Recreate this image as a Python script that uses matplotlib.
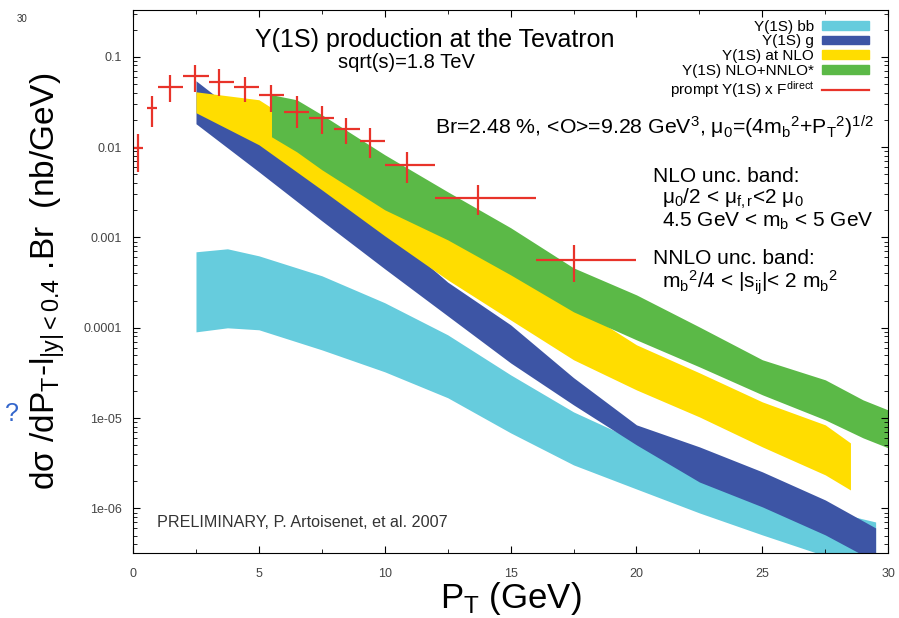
import matplotlib
matplotlib.use("Agg")
import matplotlib.pyplot as plt
from matplotlib.patches import Patch
from matplotlib.lines import Line2D
from matplotlib.ticker import FixedLocator, FixedFormatter, LogLocator, MultipleLocator
import numpy as np

plt.rcParams["font.family"] = ["Liberation Sans", "DejaVu Sans"]
plt.rcParams["mathtext.fontset"] = "custom"
plt.rcParams["mathtext.rm"] = "Liberation Sans"
plt.rcParams["mathtext.it"] = "Liberation Sans:italic"
plt.rcParams["mathtext.bf"] = "Liberation Sans:bold"

# --- theory bands (pT in GeV, dsigma in nb/GeV) ---
bb_x = [2.5, 3.75, 5, 7.5, 10, 12.5, 15, 17.5, 20, 22.5, 25, 27.5, 29.5]
bb_hi = [6.93e-4, 7.48e-4, 6.25e-4, 3.76e-4, 1.89e-4, 8.35e-5, 3.01e-5, 1.17e-5,
         5.60e-6, 2.67e-6, 1.52e-6, 9.62e-7, 7.08e-7]
bb_lo = [9.0e-5, 9.98e-5, 9.49e-5, 5.69e-5, 3.25e-5, 1.68e-5, 6.86e-6, 3.03e-6,
         1.64e-6, 8.91e-7, 5.09e-7, 2.98e-7, 2.09e-7]

g_x = [2.5, 5, 7.5, 10, 12.5, 15, 17.5, 20, 22.5, 25, 27.5, 29.5]
g_hi = [0.0542, 0.01556, 0.00446, 0.001277, 3.2e-4, 1.077e-4, 2.8e-5, 8.41e-6,
        4.80e-6, 2.54e-6, 1.24e-6, 6.08e-7]
g_lo = [0.01812, 0.00532, 0.001527, 4.49e-4, 1.354e-4, 4.08e-5, 1.40e-5, 5.05e-6,
        1.96e-6, 1.04e-6, 5.09e-7, 2.56e-7]

nlo_x = [2.5, 5, 7.5, 10, 12.5, 15, 17.5, 20, 22.5, 25, 27.5, 28.5]
nlo_hi = [0.0409, 0.0334, 0.01205, 0.00296, 1.15e-3, 4.6e-4, 1.79e-4, 6.47e-5,
          3.17e-5, 1.51e-5, 8.41e-6, 5.31e-6]
nlo_lo = [0.0240, 0.0106, 0.00336, 0.00104, 3.39e-4, 1.22e-4, 4.42e-5, 2.05e-5,
          1.03e-5, 4.80e-6, 2.35e-6, 1.60e-6]

nnlo_x = [5.5, 6.5, 7.5, 10, 12.5, 15, 17.5, 20, 22.5, 25, 27.5, 29, 30]
nnlo_hi = [0.0380, 0.0334, 0.0228, 0.00822, 0.00320, 0.00128, 4.60e-4, 2.31e-4,
           1.02e-4, 4.42e-5, 2.65e-5, 1.59e-5, 1.23e-5]
nnlo_lo = [0.0130, 0.00887, 0.00561, 0.00202, 9.40e-4, 3.85e-4, 1.50e-4, 7.34e-5,
           3.69e-5, 1.81e-5, 9.55e-6, 6.04e-6, 4.68e-6]

# --- CDF data points ---
pt_x = [0.2, 0.75, 1.47, 2.46, 3.4, 4.45, 5.5, 6.5, 7.5, 8.45, 9.4, 10.9, 13.7, 17.5]
pt_xlo = [0.0, 0.55, 1.0, 2.0, 3.0, 4.0, 5.0, 6.0, 7.0, 8.0, 9.0, 10.0, 12.0, 16.0]
pt_xhi = [0.4, 0.95, 2.0, 3.0, 4.0, 5.0, 6.0, 7.0, 8.0, 9.0, 10.0, 12.0, 16.0, 20.0]
pt_y = [0.0098, 0.0272, 0.0468, 0.0617, 0.0528, 0.0468, 0.0380, 0.0245, 0.0211,
        0.0158, 0.0117, 0.00637, 0.00275, 0.000562]
pt_yhi = [0.0138, 0.0363, 0.0631, 0.0813, 0.0724, 0.0603, 0.0490, 0.0363, 0.0282,
          0.0211, 0.0162, 0.00871, 0.00380, 0.000832]
pt_ylo = [0.00525, 0.0168, 0.0316, 0.0407, 0.0363, 0.0316, 0.0245, 0.0162, 0.0138,
          0.0107, 0.00759, 0.00398, 0.00178, 0.000324]

ytick_vals = [1e-6, 1e-5, 1e-4, 1e-3, 1e-2, 1e-1]
ytick_labels = ["1e-06", "1e-05", "0.0001", "0.001", "0.01", "0.1"]

c_bb = "#66CCDD"
c_g = "#3D55A5"
c_nlo = "#FFDD00"
c_nnlo = "#5BB947"
c_red = "#E8332A"

fig = plt.figure(figsize=(8.99, 6.18), dpi=100)
ax = fig.add_axes([0.148, 0.105, 0.840, 0.879])

ax.fill_between(bb_x, bb_lo, bb_hi, color=c_bb, lw=0)
ax.fill_between(g_x, g_lo, g_hi, color=c_g, lw=0)
ax.fill_between(nlo_x, nlo_lo, nlo_hi, color=c_nlo, lw=0)
ax.fill_between(nnlo_x, nnlo_lo, nnlo_hi, color=c_nnlo, lw=0)

x = np.array(pt_x)
y = np.array(pt_y)
xerr = [x - np.array(pt_xlo), np.array(pt_xhi) - x]
yerr = [y - np.array(pt_ylo), np.array(pt_yhi) - y]
ax.errorbar(x, y, xerr=xerr, yerr=yerr, fmt="none", ecolor=c_red, elinewidth=1.6)

ax.set_yscale("log")
ax.set_xlim(0, 30)
ax.set_ylim(3.2e-7, 0.33)

ax.yaxis.set_major_locator(FixedLocator(ytick_vals))
ax.yaxis.set_major_formatter(FixedFormatter(ytick_labels))
ax.yaxis.set_minor_locator(LogLocator(base=10, subs=np.arange(2, 10)))
ax.xaxis.set_major_locator(MultipleLocator(5))
ax.xaxis.set_minor_locator(MultipleLocator(2.5))
ax.tick_params(which="both", direction="in", top=True, right=True,
               labelsize=9, labelcolor="#444444")
ax.tick_params(which="major", length=5)
ax.tick_params(which="minor", length=3)
ax.tick_params(axis="x", pad=11)
ax.tick_params(axis="y", pad=8)

ax.set_xlabel(r"P$_{\rm T}$ (GeV)", fontsize=25, labelpad=0)
ax.set_ylabel(r"dσ /dP$_{\rm T}$-l$_{\rm |y|<0.4}$ .Br  (nb/GeV)",
              fontsize=24, labelpad=12)

# annotations
ax.text(0.40, 0.945, "Υ(1S) production at the Tevatron", transform=ax.transAxes,
        ha="center", va="center", fontsize=18)
ax.text(0.362, 0.904, "sqrt(s)=1.8 TeV", transform=ax.transAxes,
        ha="center", va="center", fontsize=14.5)
ax.text(0.40, 0.783,
        r"Br=2.48 %, <O>=9.28 GeV$^3$, μ$_0$=(4m$_{\rm b}$$^2$+P$_{\rm T}$$^2$)$^{1/2}$",
        transform=ax.transAxes, ha="left", va="center", fontsize=15.3)
ax.text(0.688, 0.694, "NLO unc. band:", transform=ax.transAxes, fontsize=15, va="center")
ax.text(0.700, 0.652, r"μ$_0$/2 < μ$_{\rm f,r}$<2 μ$_0$", transform=ax.transAxes,
        fontsize=15, va="center")
ax.text(0.701, 0.610, r"4.5 GeV < m$_{\rm b}$ < 5 GeV", transform=ax.transAxes,
        fontsize=15, va="center")
ax.text(0.688, 0.542, "NNLO unc. band:", transform=ax.transAxes, fontsize=15, va="center")
ax.text(0.700, 0.497, r"m$_{\rm b}$$^2$/4 < |s$_{\rm ij}$|< 2 m$_{\rm b}$$^2$",
        transform=ax.transAxes, fontsize=15, va="center")
ax.text(0.032, 0.057, "PRELIMINARY, P. Artoisenet, et al. 2007", transform=ax.transAxes,
        fontsize=11.6, va="center", color="#333333")

handles = [
    Patch(color=c_bb, label="Υ(1S) bb"),
    Patch(color=c_g, label="Υ(1S) g"),
    Patch(color=c_nlo, label="Υ(1S) at NLO"),
    Patch(color=c_nnlo, label="Υ(1S) NLO+NNLO*"),
    Line2D([], [], color=c_red, lw=1.6, label=r"prompt Υ(1S) x F$^{\rm direct}$"),
]
ax.legend(handles=handles, loc="upper right", frameon=False, markerfirst=False,
          bbox_to_anchor=(0.995, 1.01),
          fontsize=11, handlelength=3.1, handleheight=0.5, labelspacing=0.05,
          borderpad=0.2, borderaxespad=0.8, handletextpad=0.5)

fig.text(0.025, 0.970, "30", fontsize=7, color="#333333", ha="center", va="center")
fig.text(0.013, 0.33, "?", fontsize=18, color="#3366CC", ha="center", va="center")

fig.savefig("out.png", dpi=100)
